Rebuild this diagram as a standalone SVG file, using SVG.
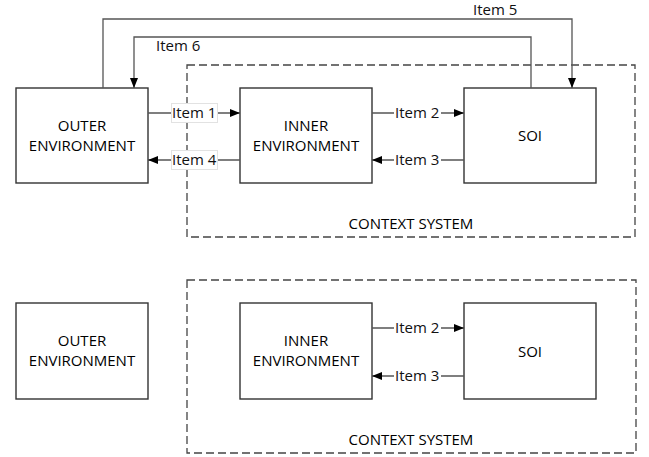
<svg xmlns="http://www.w3.org/2000/svg" width="649" height="457" viewBox="0 0 649 457">
<defs>
<marker id="ah" viewBox="0 0 10 8" refX="10" refY="4" markerWidth="11" markerHeight="8" markerUnits="userSpaceOnUse" orient="auto">
<path d="M0,0 L10,4 L0,8 Z" fill="#000"/>
</marker>
<style>
.box{fill:#fff;stroke:#333;stroke-width:1.4}
.ctx{fill:none;stroke:#444;stroke-width:1.3;stroke-dasharray:8,4}
.t{font-family:"Open Sans","Noto Sans",sans-serif;font-size:15px;fill:#000;text-anchor:middle}
.lbl{font-family:"Open Sans","Noto Sans",sans-serif;font-size:15px;fill:#111}
.c{fill:none;stroke:#555;stroke-width:1.3}
.bg{fill:#fff}
.bgb{fill:#fff;stroke:#e2e2e2;stroke-width:1}
</style>
</defs>
<rect width="649" height="457" fill="#fff"/>

<g id="context-top"><rect class="ctx" x="187" y="65" width="448" height="172"/><text class="t" x="411" y="229">CONTEXT SYSTEM</text></g>
<g id="context-bottom"><rect class="ctx" x="187" y="280" width="449" height="173"/><text class="t" x="411" y="445">CONTEXT SYSTEM</text></g>

<g id="outer-top"><rect class="box" x="16" y="88" width="132" height="95"/><text class="t" x="82" y="131">OUTER</text><text class="t" x="82" y="151">ENVIRONMENT</text></g>
<g id="inner-top"><rect class="box" x="240" y="88" width="132" height="95"/><text class="t" x="306" y="131">INNER</text><text class="t" x="306" y="151">ENVIRONMENT</text></g>
<g id="soi-top"><rect class="box" x="464" y="88" width="132" height="95"/><text class="t" x="530" y="141">SOI</text></g>

<g id="outer-bottom"><rect class="box" x="16" y="303" width="132" height="96"/><text class="t" x="82" y="346">OUTER</text><text class="t" x="82" y="366">ENVIRONMENT</text></g>
<g id="inner-bottom"><rect class="box" x="240" y="303" width="132" height="96"/><text class="t" x="306" y="346">INNER</text><text class="t" x="306" y="366">ENVIRONMENT</text></g>
<g id="soi-bottom"><rect class="box" x="464" y="303" width="132" height="96"/><text class="t" x="530" y="357">SOI</text></g>

<g id="connectors">
<path class="c" d="M148,113 H240" marker-end="url(#ah)"/>
<path class="c" d="M240,160 H148" marker-end="url(#ah)"/>
<path class="c" d="M372,113 H464" marker-end="url(#ah)"/>
<path class="c" d="M464,160 H372" marker-end="url(#ah)"/>
<path class="c" d="M372,328 H464" marker-end="url(#ah)"/>
<path class="c" d="M464,376 H372" marker-end="url(#ah)"/>
<path class="c" d="M103,88 V19 H572 V88" marker-end="url(#ah)"/>
<path class="c" d="M531,88 V37 H134 V88" marker-end="url(#ah)"/>

<rect class="bgb" x="171.5" y="103.5" width="46" height="19"/><text class="lbl" x="172" y="118">Item 1</text>
<rect class="bgb" x="171.5" y="150.5" width="46" height="19"/><text class="lbl" x="172" y="165">Item 4</text>
<rect class="bg" x="394" y="103" width="47" height="20"/><text class="lbl" x="395" y="118">Item 2</text>
<rect class="bg" x="394" y="150" width="47" height="20"/><text class="lbl" x="395" y="165">Item 3</text>
<rect class="bg" x="394" y="318" width="47" height="20"/><text class="lbl" x="395" y="333">Item 2</text>
<rect class="bg" x="394" y="366" width="47" height="20"/><text class="lbl" x="395" y="381">Item 3</text>
<text class="lbl" x="473" y="15">Item 5</text>
<text class="lbl" x="156" y="51">Item 6</text>
</g>
</svg>
